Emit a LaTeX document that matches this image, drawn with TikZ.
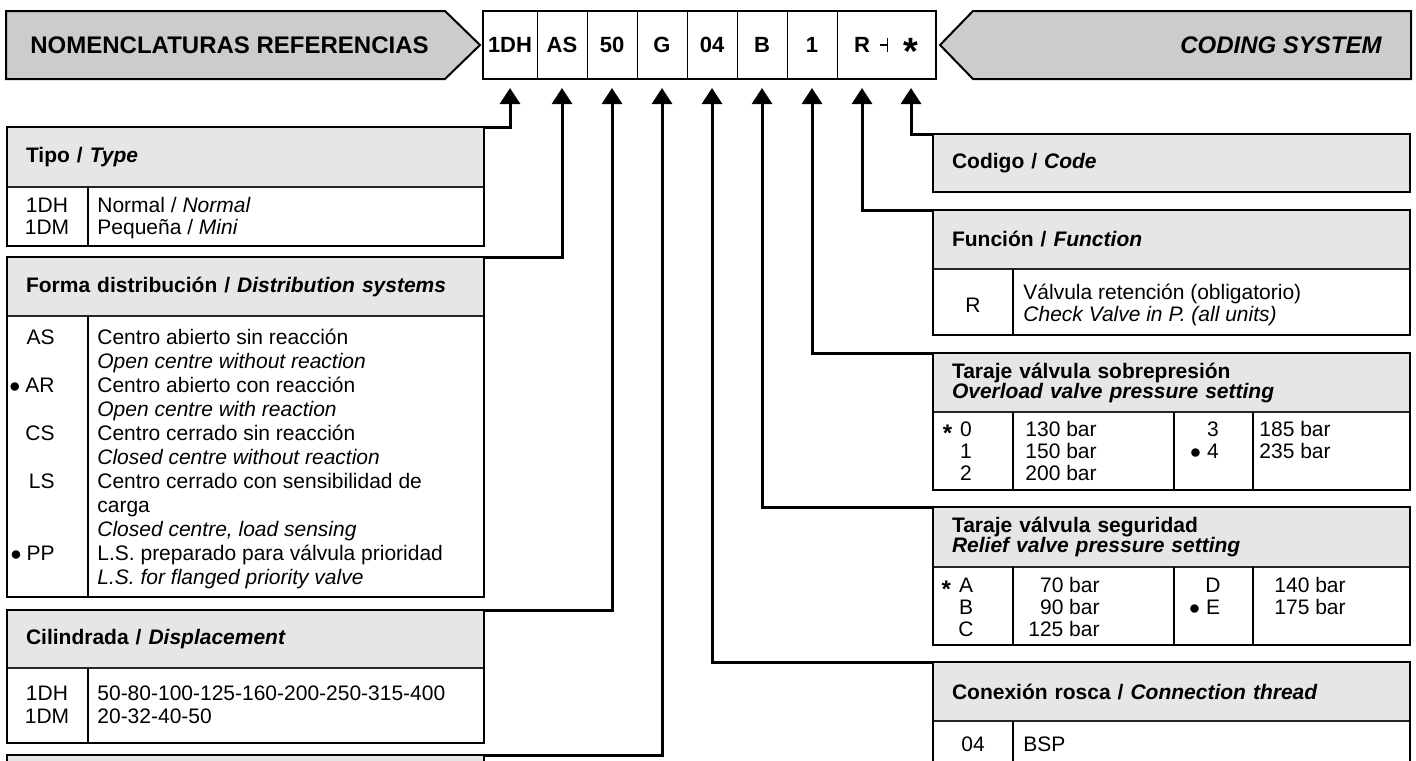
\documentclass[tikz,border=0pt]{standalone}
\usepackage{fontspec}
\setmainfont{Liberation Sans}
\usetikzlibrary{arrows.meta, positioning, calc}

\definecolor{bannergray}{HTML}{CCCCCC}
\definecolor{headgray}{HTML}{E6E6E6}
\newcommand{\rowfont}[1]{\fontsize{10.5}{#1}\selectfont}
\newcommand{\dotmark}[1]{\llap{$\bullet$\hspace{#1}}}
\newcommand{\starmark}{\llap{\raisebox{-0.25em}[0pt][0pt]{\large\textbf{*}}\hspace{4pt}}}

\begin{document}
\begin{tikzpicture}[
  x=0.5pt, y=-0.5pt,
  font=\rowfont{11},
  banner/.style={draw=black, line width=1pt, fill=bannergray},
  cell/.style={minimum width=25pt, minimum height=34pt, inner sep=0pt, outer sep=0pt,
               font=\fontsize{11}{13}\selectfont\bfseries},
  head/.style={draw=black!85, line width=0.75pt, fill=headgray, anchor=north west,
               minimum height=#1, text width=219.5pt, inner xsep=9.5pt, inner ysep=0pt,
               align=left, outer sep=0pt, font=\fontsize{10.5}{10}\selectfont\bfseries},
  body/.style={minimum width=238.5pt, minimum height=#1, inner sep=0pt, outer sep=0pt},
  frame/.style={draw=black, line width=1.25pt},
  rule/.style={draw=black, line width=0.75pt},
  lbl/.style={inner sep=0pt, align=center, anchor=base},
  txt/.style={inner sep=0pt, align=left, anchor=base west},
  link/.style={line width=1.5pt, -{Triangle[width=10pt,length=8pt]}, shorten >=4.5pt},
]
\useasboundingbox (0,0) rectangle (1416,760);
\fill[white] (0,0) rectangle (1416,760);
\clip (0,0) rectangle (1416,760);

% ---- Top row: banners and code ----
\draw[banner] (6,11) -- (445,11) -- (480,45) -- (445,79) -- (6,79) -- cycle;
\draw[banner] (973,11) -- (1411,11) -- (1411,79) -- (973,79) -- (940,45) -- cycle;
\node[anchor=west, inner sep=0pt, font=\fontsize{12}{14}\selectfont\bfseries] (ttl) at (30,45) {NOMENCLATURAS REFERENCIAS};
\node[anchor=east, inner sep=0pt, font=\fontsize{12}{14}\selectfont\bfseries\itshape] (sys) at (1382,45) {CODING SYSTEM};

\node[cell, minimum width=27pt] (kDH) at (510,45) {1DH};
\node[cell] (kAS) at (562,45) {AS};
\node[cell] (k50) at (612,45) {50};
\node[cell] (kG) at (662,45) {G};
\node[cell] (k04) at (712,45) {04};
\node[cell] (kB) at (762,45) {B};
\node[cell] (k1) at (812,45) {1};
\node[cell] (kR) at (862,45) {R};
\node[cell, font=\fontsize{19}{19}\selectfont\bfseries] (kX) at (911,45) {\raisebox{-0.52em}[0pt][0pt]{*}};
\draw[frame] (kDH.north west) rectangle (kX.south east);
\draw[thin] (kDH.north east) -- (kDH.south east);
\draw[thin] (kAS.north east) -- (kAS.south east);
\draw[thin] (k50.north east) -- (k50.south east);
\draw[thin] (kG.north east) -- (kG.south east);
\draw[thin] (k04.north east) -- (k04.south east);
\draw[thin] (kB.north east) -- (kB.south east);
\draw[thin] (k1.north east) -- (k1.south east);
\draw[thick] ($(kR.east)+(-7,0)$) -- (kR.east);
\draw[thin] ($(kR.east)+(0,-7)$) -- ($(kR.east)+(0,7)$);

% ---- Left column ----
\node[head=30pt] (tipoH) at (7,127) {Tipo / \textit{Type}};
\node[body=29.5pt, below=0pt of tipoH] (tipoB) {};
\draw[frame] (tipoH.north west) rectangle (tipoB.south east);
\draw[rule] ($(tipoB.north west)+(81,0)$) -- ($(tipoB.south west)+(81,0)$);
\node[lbl] (tipoA) at (47,234) {1DH\\1DM};
\node[txt] (tipoT) at (97,234) {Normal / \textit{Normal}\\Pequeña / \textit{Mini}};

\node[head=29.5pt] (formaH) at (7,257) {Forma distribución / \textit{Distribution systems}};
\node[body=140.5pt, below=0pt of formaH] (formaB) {};
\draw[frame] (formaH.north west) rectangle (formaB.south east);
\draw[rule] ($(formaB.north west)+(81,0)$) -- ($(formaB.south west)+(81,0)$);
\node[lbl, anchor=base east, align=right, font=\rowfont{12}] (formaA) at (55,560)
  {AS\\\mbox{}\\\dotmark{2.5pt}AR\\\mbox{}\\CS\\\mbox{}\\LS\\\mbox{}\\\mbox{}\\\dotmark{2.5pt}PP};
\node[txt, font=\rowfont{12}] (formaT) at (97,584)
  {Centro abierto sin reacción\\\textit{Open centre without reaction}\\
   Centro abierto con reacción\\\textit{Open centre with reaction}\\
   Centro cerrado sin reacción\\\textit{Closed centre without reaction}\\
   Centro cerrado con sensibilidad de\\carga\\\textit{Closed centre, load sensing}\\
   L.S. preparado para válvula prioridad\\\textit{L.S. for flanged priority valve}};

\node[head=29pt] (cilH) at (7,610) {Cilindrada / \textit{Displacement}};
\node[body=37.5pt, below=0pt of cilH] (cilB) {};
\draw[frame] (cilH.north west) rectangle (cilB.south east);
\draw[rule] ($(cilB.north west)+(81,0)$) -- ($(cilB.south west)+(81,0)$);
\node[lbl, font=\rowfont{11.5}] (cilA) at (47,723) {1DH\\1DM};
\node[txt, font=\rowfont{11.5}] (cilT) at (97,723) {50-80-100-125-160-200-250-315-400\\20-32-40-50};

\node[head=29.5pt] (gH) at (7,755) {};
\node[body=30pt, below=0pt of gH] (gB) {};
\draw[frame] (gH.north west) rectangle (gB.south east);

% ---- Right column ----
\node[head=29pt] (codeH) at (933,134) {Codigo / \textit{Code}};
\draw[frame] (codeH.north west) rectangle (codeH.south east);

\node[head=29.5pt] (funcH) at (933,210) {Función / \textit{Function}};
\node[body=33pt, below=0pt of funcH] (funcB) {};
\draw[frame] (funcH.north west) rectangle (funcB.south east);
\draw[rule] ($(funcB.north west)+(80,0)$) -- ($(funcB.south west)+(80,0)$);
\node[lbl] (funcA) at (973,312) {R};
\node[txt, font=\rowfont{8.5}] (funcT) at (1023,321) {Válvula retención (obligatorio)\\\textit{Check Valve in P. (all units)}};

\node[head=29.5pt] (overH) at (933,353) {Taraje válvula sobrepresión\\\textit{Overload valve pressure setting}};
\node[body=39pt, below=0pt of overH] (overB) {};
\draw[frame] (overH.north west) rectangle (overB.south east);
\draw[rule] ($(overB.north west)+(80,0)$) -- ($(overB.south west)+(80,0)$);
\draw[frame] ($(overB.north west)+(241,0)$) -- ($(overB.south west)+(241,0)$);
\draw[rule] ($(overB.north west)+(320,0)$) -- ($(overB.south west)+(320,0)$);
\node[lbl] (overA) at (966,480) {\starmark 0\\1\\2};
\node[txt] (overT) at (1025,480) {130 bar\\150 bar\\200 bar};
\node[lbl] (overC) at (1213,458) {3\\\dotmark{3pt}4};
\node[txt] (overD) at (1259,458) {185 bar\\235 bar};

\node[head=30pt] (reliefH) at (933,507) {Taraje válvula seguridad\\\textit{Relief valve pressure setting}};
\node[body=39pt, below=0pt of reliefH] (reliefB) {};
\draw[frame] (reliefH.north west) rectangle (reliefB.south east);
\draw[rule] ($(reliefB.north west)+(80,0)$) -- ($(reliefB.south west)+(80,0)$);
\draw[frame] ($(reliefB.north west)+(241,0)$) -- ($(reliefB.south west)+(241,0)$);
\draw[rule] ($(reliefB.north west)+(320,0)$) -- ($(reliefB.south west)+(320,0)$);
\node[lbl] (relA) at (966,636) {\starmark A\\B\\C};
\node[lbl, anchor=base east, align=right] (relT) at (1100,636) {70 bar\\90 bar\\125 bar};
\node[lbl] (relC) at (1213,614) {D\\\dotmark{3pt}E};
\node[txt] (relD) at (1274,614) {140 bar\\175 bar};

\node[head=29.5pt] (conxH) at (933,662) {Conexión rosca / \textit{Connection thread}};
\node[body=30pt, below=0pt of conxH] (conxB) {};
\draw[frame] (conxH.north west) rectangle (conxB.south east);
\draw[rule] ($(conxB.north west)+(80,0)$) -- ($(conxB.south west)+(80,0)$);
\node[lbl] (conxA) at (973,751) {04};
\node[txt] (conxT) at (1023,751) {BSP};

% ---- Connectors to the code ----
\draw[link] (tipoH.north east) -| (kDH.south);
\draw[link] (formaH.north east) -| (kAS.south);
\draw[link] (cilH.north east) -| (k50.south);
\draw[link] (gH.north east) -| (kG.south);
\draw[link] (conxH.north west) -| (k04.south);
\draw[link] (reliefH.north west) -| (kB.south);
\draw[link] (overH.north west) -| (k1.south);
\draw[link] (funcH.north west) -| (kR.south);
\draw[link] (codeH.north west) -| (kX.south);

\end{tikzpicture}
\end{document}
